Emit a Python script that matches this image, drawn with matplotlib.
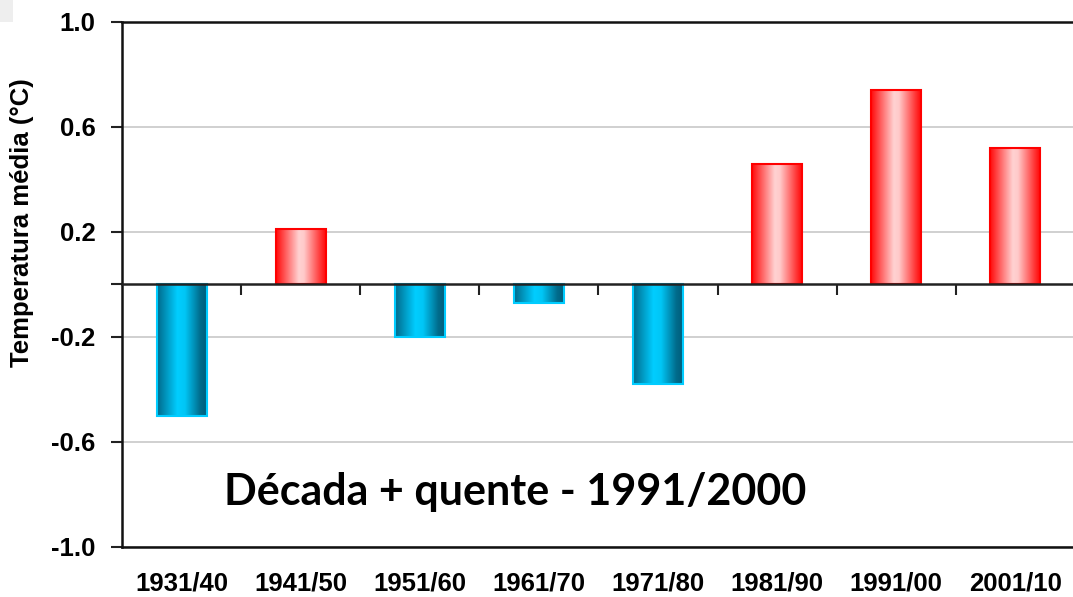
import numpy as np
import matplotlib
matplotlib.use('Agg')
import matplotlib.pyplot as plt
from matplotlib.colors import LinearSegmentedColormap
import matplotlib.patches as mpatches

decades = ['1931/40', '1941/50', '1951/60', '1961/70', '1971/80', '1981/90', '1991/00', '2001/10']
anomaly = [-0.50, 0.21, -0.20, -0.07, -0.38, 0.46, 0.74, 0.52]
ytick_values = [-1.0, -0.6, -0.2, 0.2, 0.6, 1.0]
ytick_labels = ['-1.0', '-0.6', '-0.2', '0.2', '0.6', '1.0']
note = 'Década + quente - 1991/2000'

plt.rcParams['font.family'] = ['Liberation Sans', 'DejaVu Sans']

cmap_neg = LinearSegmentedColormap.from_list('neg', [(0, '#00698a'), (0.4, '#00cdff'), (0.55, '#00c6f6'), (0.85, '#006c8c'), (1, '#005a78')])
cmap_pos = LinearSegmentedColormap.from_list('pos', [(0, '#ff0a0a'), (0.45, '#ffd2d2'), (0.55, '#ffcaca'), (0.85, '#ff4040'), (1, '#ff0000')])

fig = plt.figure(figsize=(10.73, 5.97), dpi=100)
ax = fig.add_axes([0.1137, 0.0838, 0.888, 0.8794])

x = np.arange(len(decades))
edge = ['#ff0000' if v > 0 else '#00ccff' for v in anomaly]
bars = ax.bar(x, anomaly, width=0.42, color='none', edgecolor=edge, linewidth=1.5, zorder=4)

grad = np.linspace(0, 1, 256).reshape(1, -1)
for bar, v in zip(bars, anomaly):
    x0, y0 = bar.get_xy()
    w, h = bar.get_width(), bar.get_height()
    ax.imshow(grad, extent=[x0, x0 + w, y0, y0 + h], cmap=cmap_pos if v > 0 else cmap_neg,
              aspect='auto', interpolation='bilinear', origin='lower', zorder=3)

ax.set_xlim(-0.5, len(decades) - 0.5)
ax.set_ylim(-1.0, 1.0)

# y axis
ax.set_yticks(ytick_values)
ax.set_yticklabels(ytick_labels, fontsize=18.5, fontweight='bold')
ax.set_yticks([0], minor=True)
ax.tick_params(axis='y', which='both', length=8, width=1.5, color='#222222', pad=11)
ax.grid(axis='y', color='#c8c8c8', linewidth=1.2, zorder=0)
ax.set_ylabel('Temperatura média (°C)', fontsize=18.5, fontweight='bold')
ax.yaxis.set_label_coords(-0.092, 0.617)

# category labels at the bottom
ax.set_xticks(x)
ax.set_xticklabels(decades, fontsize=18.5, fontweight='bold')
ax.tick_params(axis='x', length=0, pad=18)

for s in ['left', 'bottom', 'top']:
    ax.spines[s].set_linewidth(1.8)
    ax.spines[s].set_color('#111111')
ax.spines['right'].set_visible(False)

# zero line with category separators
zero_axis = ax.secondary_xaxis(0.5)
zero_axis.set_xticks(x[:-1] + 0.5)
zero_axis.set_xticklabels([])
zero_axis.tick_params(direction='in', length=8, width=1.5, color='#222222')
zero_axis.spines['top'].set_visible(True)
zero_axis.spines['top'].set_linewidth(1.8)
zero_axis.spines['top'].set_color('#222222')
zero_axis.set_zorder(5)

ax.text(2.8, -0.79, note, fontsize=31, fontweight='bold', family=['Lato', 'DejaVu Sans'],
        ha='center', va='center', zorder=6)

fig.patches.append(mpatches.Rectangle((0, 0.963), 0.012, 0.037, transform=fig.transFigure,
                                      facecolor='#eeeeee', edgecolor='none'))

fig.savefig('out.png', dpi=100)
